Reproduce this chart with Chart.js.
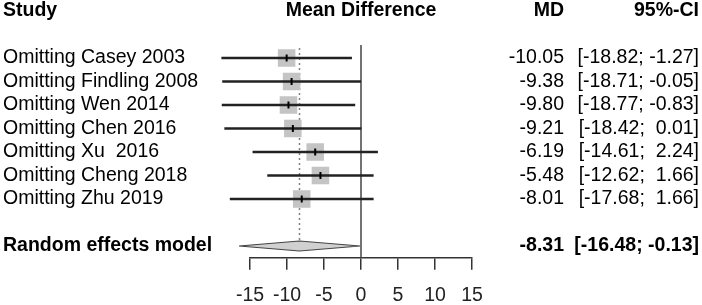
<!DOCTYPE html>
<html><head><meta charset="utf-8">
<script src="https://cdn.jsdelivr.net/npm/chart.js@4/dist/chart.umd.min.js"></script>
<style>html,body{margin:0;padding:0;background:#fff}#wrap{width:702px;height:305px;position:relative}</style>
</head><body><div id="wrap"><canvas id="c"></canvas></div>
<script>
const studies = ["Omitting Casey 2003","Omitting Findling 2008","Omitting Wen 2014","Omitting Chen 2016","Omitting Xu  2016","Omitting Cheng 2018","Omitting Zhu 2019"];
const md = [-10.05,-9.38,-9.80,-9.21,-6.19,-5.48,-8.01];
const lower = [-18.82,-18.71,-18.77,-18.42,-14.61,-12.62,-17.68];
const upper = [-1.27,-0.05,-0.83,0.01,2.24,1.66,1.66];
const pooledLabel = "Random effects model";
const pooled = [-8.31,-16.48,-0.13]; // estimate, lower, upper
const xTicks = [-15,-10,-5,0,5,10,15];
const headers = ["Study","Mean Difference","MD","95%-CI"];

const rows = studies.map((s,i)=>i+1);
const pooledRow = studies.length + 2;
const FONT = '"Liberation Sans", Arial, sans-serif';
const fmt = v => (v>=0?' ':'') + v.toFixed(2);
const ciText = (lo,hi) => '[' + lo.toFixed(2) + '; ' + fmt(hi) + ']';

const forestPlugin = {
  id:'forest',
  beforeDatasetsDraw(chart){
    const {ctx} = chart, x = chart.scales.x, y = chart.scales.y;
    ctx.save();
    ctx.strokeStyle='#444'; ctx.lineWidth=1.5;
    ctx.beginPath(); ctx.moveTo(x.getPixelForValue(0), y.getPixelForValue(0.45));
    ctx.lineTo(x.getPixelForValue(0), y.getPixelForValue(pooledRow+0.5)); ctx.stroke();
    ctx.strokeStyle='#555'; ctx.lineWidth=1.5; ctx.setLineDash([1.5,3.5]);
    ctx.beginPath(); ctx.moveTo(x.getPixelForValue(pooled[0]), y.getPixelForValue(0.58));
    ctx.lineTo(x.getPixelForValue(pooled[0]), y.getPixelForValue(pooledRow-0.22)); ctx.stroke();
    ctx.restore();
  },
  afterDatasetsDraw(chart){
    const {ctx} = chart, x = chart.scales.x, y = chart.scales.y;
    const yc = y.getPixelForValue(pooledRow), h = 5;
    ctx.save();
    ctx.beginPath();
    ctx.moveTo(x.getPixelForValue(pooled[1]), yc);
    ctx.lineTo(x.getPixelForValue(pooled[0]), yc-h);
    ctx.lineTo(x.getPixelForValue(pooled[2]), yc);
    ctx.lineTo(x.getPixelForValue(pooled[0]), yc+h);
    ctx.closePath();
    ctx.fillStyle='#d0d0d0'; ctx.fill();
    ctx.strokeStyle='#444'; ctx.lineWidth=1.2; ctx.stroke();
    ctx.restore();
  },
  afterDraw(chart){
    const {ctx} = chart, x = chart.scales.x, y = chart.scales.y;
    ctx.save();
    ctx.fillStyle='#000'; ctx.textBaseline='middle';
    const hy = y.getPixelForValue(-1);
    ctx.font = 'bold 19.5px ' + FONT;
    ctx.textAlign='left'; ctx.fillText(headers[0], 3, hy);
    ctx.textAlign='center'; ctx.fillText(headers[1], x.getPixelForValue(0), hy);
    ctx.textAlign='right'; ctx.fillText(headers[2], 564, hy); ctx.fillText(headers[3], 699, hy);
    ctx.font = '19.5px ' + FONT;
    studies.forEach((s,i)=>{
      const py = y.getPixelForValue(rows[i]);
      ctx.textAlign='left'; ctx.fillText(s, 3, py);
      ctx.textAlign='right'; ctx.fillText(md[i].toFixed(2), 564, py);
      ctx.fillText(ciText(lower[i],upper[i]), 699, py);
    });
    const py = y.getPixelForValue(pooledRow);
    ctx.font = 'bold 19.5px ' + FONT;
    ctx.textAlign='left'; ctx.fillText(pooledLabel, 3, py);
    ctx.textAlign='right'; ctx.fillText(pooled[0].toFixed(2), 564, py);
    ctx.fillText(ciText(pooled[1],pooled[2]), 699, py);
    ctx.restore();
  }
};

new Chart(document.getElementById('c'), {
  type:'bar',
  data:{
    datasets:[
      {type:'scatter', data: md.map((v,i)=>({x:v,y:rows[i]})), pointStyle:'rect', pointRadius:12.4,
       backgroundColor:'#c4c4c4', borderColor:'#c4c4c4', borderWidth:0, order:3, clip:false},
      {type:'bar', data: lower.map((v,i)=>({x:[v,upper[i]], y:rows[i]})), backgroundColor:'#222',
       barThickness:1.6, order:2, clip:false},
      {type:'scatter', data: md.map((v,i)=>({x:v,y:rows[i]})), pointStyle:'line', rotation:90, pointRadius:3.5,
       borderColor:'#000', borderWidth:2, order:1, clip:false}
    ]
  },
  options:{
    indexAxis:'y',
    responsive:true, maintainAspectRatio:false, animation:false, devicePixelRatio:1,
    layout:{padding:{left:250,right:230,top:34.5,bottom:0}},
    plugins:{legend:{display:false},tooltip:{enabled:false}},
    scales:{
      x:{type:'linear', position:'bottom', min:-15, max:15, offset:false,
         afterBuildTicks: s => { s.ticks = xTicks.map(v=>({value:v})); },
         afterFit: s => { s.height = 305 - 257.75; },
         grid:{drawOnChartArea:false, drawTicks:true, tickLength:12, color:'#333', lineWidth:1.5, offset:false},
         border:{display:true, color:'#333', width:1.5},
         ticks:{font:{size:19.5, family:FONT}, color:'#222', padding:14, maxRotation:0, autoSkip:false}},
      y:{type:'linear', display:false, reverse:true, min:0, max:pooledRow+0.5, offset:false, grid:{offset:false}}
    }
  },
  plugins:[forestPlugin]
});
</script></body></html>
